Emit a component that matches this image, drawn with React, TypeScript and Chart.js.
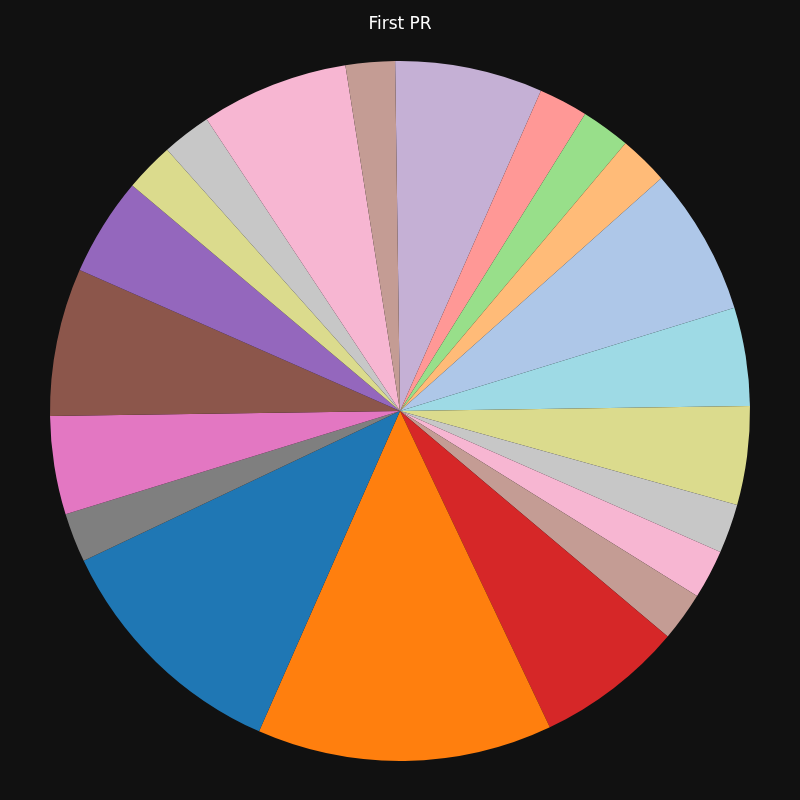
import React, { useEffect, useRef } from "react";
import { Chart, registerables } from "chart.js";

Chart.register(...registerables);

const labels = [
  "A", "B", "C", "D", "E", "F", "G", "H", "I", "J", "K",
  "L", "M", "N", "O", "P", "Q", "R", "S", "T", "U",
];
const values = [3, 1, 1, 1, 3, 2, 2, 1, 1, 1, 3, 6, 5, 1, 2, 3, 2, 1, 1, 3, 1];
const colors = [
  "#c5b0d5", "#ff9896", "#98df8a", "#ffbb78", "#aec7e8", "#9edae5",
  "#dbdb8d", "#c7c7c7", "#f7b6d2", "#c49c94", "#d62728", "#ff7f0e",
  "#1f77b4", "#7f7f7f", "#e377c2", "#8c564b", "#9467bd", "#dbdb8d",
  "#c7c7c7", "#f7b6d2", "#c49c94",
];
const title = "First PR";

export default function App() {
  const ref = useRef<HTMLCanvasElement | null>(null);
  useEffect(() => {
    if (!ref.current) return;
    const chart = new Chart(ref.current, {
      type: "pie",
      data: {
        labels,
        datasets: [
          {
            data: values,
            backgroundColor: colors,
            borderWidth: 0,
          },
        ],
      },
      options: {
        animation: false,
        responsive: false,
        rotation: -0.8,
        radius: 350,
        layout: { padding: { top: 0, bottom: 12.4, left: 0, right: 0 } },
        plugins: {
          legend: { display: false },
          tooltip: { enabled: false },
          title: {
            display: true,
            text: title,
            color: "#ffffff",
            font: { family: "DejaVu Sans", size: 17, weight: "normal" },
            padding: { top: 14, bottom: 0 },
          },
        },
      },
    });
    return () => chart.destroy();
  }, []);
  return (
    <div
      style={{
        position: "fixed",
        left: 0,
        top: 0,
        width: 800,
        height: 800,
        background: "#111111",
      }}
    >
      <canvas ref={ref} width={800} height={800} />
    </div>
  );
}
